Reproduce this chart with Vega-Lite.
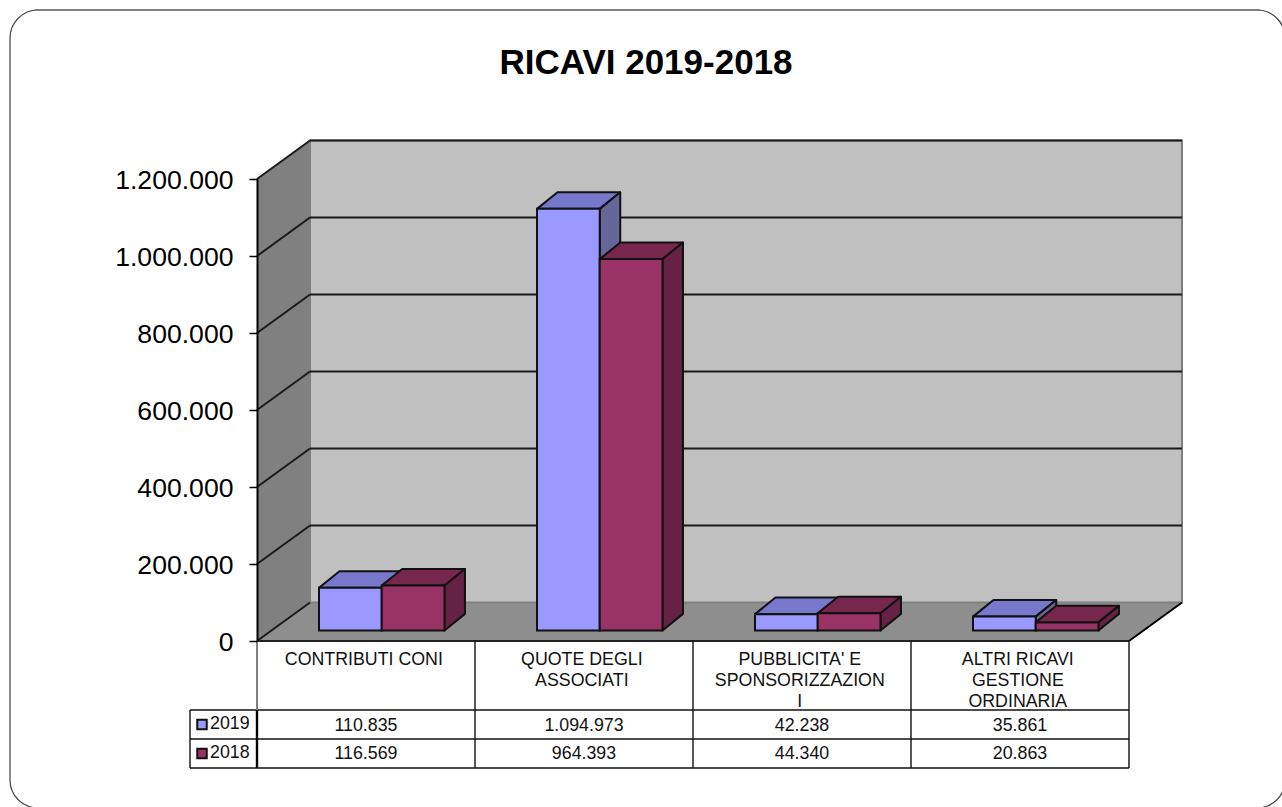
{
"$schema":"https://vega.github.io/schema/vega-lite/v6.json",
"width":872,"height":462,
"autosize":{"type":"none"},
"padding":{"left":257,"top":179,"right":153,"bottom":166},
"background":"white",
"config":{"view":{"stroke":null},"font":"Liberation Sans"},
"title":{"text":"RICAVI 2019-2018","anchor":"middle","frame":"group","font":"Liberation Sans","fontSize":35,"fontWeight":"bold","color":"black","dx":-47,"offset":-72},
"datasets":{
"ricavi":[
{"n":0,"categoria":"CONTRIBUTI CONI","serie":"2019","valore":110835},
{"n":1,"categoria":"QUOTE DEGLI ASSOCIATI","serie":"2019","valore":1094973},
{"n":2,"categoria":"PUBBLICITA' E SPONSORIZZAZIONI","serie":"2019","valore":42238},
{"n":3,"categoria":"ALTRI RICAVI GESTIONE ORDINARIA","serie":"2019","valore":35861},
{"n":0,"categoria":"CONTRIBUTI CONI","serie":"2018","valore":116569},
{"n":1,"categoria":"QUOTE DEGLI ASSOCIATI","serie":"2018","valore":964393},
{"n":2,"categoria":"PUBBLICITA' E SPONSORIZZAZIONI","serie":"2018","valore":44340},
{"n":3,"categoria":"ALTRI RICAVI GESTIONE ORDINARIA","serie":"2018","valore":20863}
],
"etichette":[
{"n":0,"etichetta":"CONTRIBUTI CONI"},
{"n":1,"etichetta":"QUOTE DEGLI\nASSOCIATI"},
{"n":2,"etichetta":"PUBBLICITA' E\nSPONSORIZZAZION\nI"},
{"n":3,"etichetta":"ALTRI RICAVI\nGESTIONE\nORDINARIA"}
],
"tacche":[{"v":0},{"v":200000},{"v":400000},{"v":600000},{"v":800000},{"v":1000000},{"v":1200000}],
"profondita":[{"t":0},{"t":1}],
"serie":[{"serie":"2019","r":0},{"serie":"2018","r":1}],
"uno":[{"k":1}],
"colonne":[{"n":1},{"n":2},{"n":3},{"n":4}],
"righe":[{"r":0},{"r":1},{"r":2}]
},
"encoding":{
"x":{"field":"x","type":"quantitative","scale":{"domain":[0,4],"nice":false,"zero":false},"axis":null},
"y":{"field":"y","type":"quantitative","scale":{"domain":[0,1200000],"nice":false,"zero":false},
"axis":{"values":[0,200000,400000,600000,800000,1000000,1200000],"title":null,"grid":false,"labelExpr":"replace(format(datum.value,','),/,/g,'.')","labelFont":"Liberation Sans","labelFontSize":26.6,"labelColor":"black","labelPadding":16,"labelOverlap":false,"labelBound":false,"labelFlush":false,"labelOffset":1,"tickSize":8,"tickColor":"black","tickWidth":1.5,"domainColor":"black","domainWidth":2,"zindex":1}}
},
"layer":[
{"data":{"name":"uno"},
"transform":[{"calculate":"-1.133","as":"x"},{"calculate":"4.716","as":"x2"},{"calculate":"1638959","as":"y"},{"calculate":"-433766","as":"y2"}],
"mark":{"type":"rect","fill":"white","stroke":"#444444","strokeWidth":1.2,"cornerRadius":28},
"encoding":{"x2":{"field":"x2"},"y2":{"field":"y2"}}},
{"data":{"name":"uno"},
"transform":[{"calculate":"-1.02","as":"x"},{"calculate":"4.6","as":"x2"},{"calculate":"1638959","as":"y"}],
"mark":{"type":"rule","stroke":"#808080","strokeWidth":2},
"encoding":{"x2":{"field":"x2"}}},
{"data":{"name":"profondita"},
"transform":[{"calculate":"datum.t*0.2431","as":"x"},{"calculate":"datum.t*100000","as":"y"},{"calculate":"1200000+datum.t*100000","as":"y2"}],
"mark":{"type":"area","orient":"vertical","fill":"#808080"},
"encoding":{"y2":{"field":"y2"}}},
{"data":{"name":"profondita"},
"transform":[{"calculate":"datum.t*0.2431","as":"x"},{"calculate":"4+datum.t*0.2431","as":"x2"},{"calculate":"datum.t*100000","as":"y"}],
"mark":{"type":"area","orient":"horizontal","fill":"#8E8E8E"},
"encoding":{"x2":{"field":"x2"}}},
{"data":{"name":"uno"},
"transform":[{"calculate":"0.2431","as":"x"},{"calculate":"4.2431","as":"x2"},{"calculate":"100000","as":"y"},{"calculate":"1300000","as":"y2"}],
"mark":{"type":"rect","fill":"#C0C0C0","stroke":"#808080","strokeWidth":2},
"encoding":{"x2":{"field":"x2"},"y2":{"field":"y2"}}},
{"data":{"name":"tacche"},
"transform":[{"filter":"datum.v>0"},{"calculate":"0.2431","as":"x"},{"calculate":"4.2431","as":"x2"},{"calculate":"datum.v+100000","as":"y"}],
"mark":{"type":"rule","stroke":"#1a1a1a","strokeWidth":2.2},
"encoding":{"x2":{"field":"x2"}}},
{"data":{"name":"tacche"},
"transform":[{"calculate":"0","as":"x"},{"calculate":"0.2431","as":"x2"},{"calculate":"datum.v","as":"y"},{"calculate":"datum.v+100000","as":"y2"}],
"mark":{"type":"rule","stroke":"#1a1a1a","strokeWidth":2},
"encoding":{"x2":{"field":"x2"},"y2":{"field":"y2"}}},
{"data":{"name":"uno"},
"transform":[{"calculate":"4","as":"x"},{"calculate":"4.2431","as":"x2"},{"calculate":"0","as":"y"},{"calculate":"100000","as":"y2"}],
"mark":{"type":"rule","stroke":"black","strokeWidth":2},
"encoding":{"x2":{"field":"x2"},"y2":{"field":"y2"}}},
{"data":{"name":"ricavi"},
"transform":[{"filter":"datum.serie=='2019'"},{"calculate":"datum.n+0.2844","as":"a"},{"calculate":"datum.a+0.2878","as":"b"},{"calculate":"[0,1]","as":"ts"},{"flatten":["ts"],"as":["t"]},{"calculate":"datum.a+datum.t*0.094","as":"x"},{"calculate":"datum.b+datum.t*0.094","as":"x2"},{"calculate":"27500+datum.valore+datum.t*43000","as":"y"}],
"mark":{"type":"area","orient":"horizontal","fill":"#7777CC","stroke":"#111111","strokeWidth":2,"strokeJoin":"round"},
"encoding":{"x2":{"field":"x2"},"detail":{"field":"n"}}},
{"data":{"name":"ricavi"},
"transform":[{"filter":"datum.serie=='2019'"},{"calculate":"datum.n+0.2844+0.2878","as":"b"},{"calculate":"[0,1]","as":"ts"},{"flatten":["ts"],"as":["t"]},{"calculate":"datum.b+datum.t*0.094","as":"x"},{"calculate":"27500+datum.t*43000","as":"y"},{"calculate":"27500+datum.valore+datum.t*43000","as":"y2"}],
"mark":{"type":"area","orient":"vertical","fill":"#666699","stroke":"#111111","strokeWidth":2,"strokeJoin":"round"},
"encoding":{"y2":{"field":"y2"},"detail":{"field":"n"}}},
{"data":{"name":"ricavi"},
"transform":[{"filter":"datum.serie=='2018'"},{"calculate":"datum.n+0.2844+0.2878","as":"a"},{"calculate":"datum.a+0.2878","as":"b"},{"calculate":"[0,1]","as":"ts"},{"flatten":["ts"],"as":["t"]},{"calculate":"datum.a+datum.t*0.094","as":"x"},{"calculate":"datum.b+datum.t*0.094","as":"x2"},{"calculate":"27500+datum.valore+datum.t*43000","as":"y"}],
"mark":{"type":"area","orient":"horizontal","fill":"#77264C","stroke":"#111111","strokeWidth":2,"strokeJoin":"round"},
"encoding":{"x2":{"field":"x2"},"detail":{"field":"n"}}},
{"data":{"name":"ricavi"},
"transform":[{"filter":"datum.serie=='2018'"},{"calculate":"datum.n+0.2844+0.2878+0.2878","as":"b"},{"calculate":"[0,1]","as":"ts"},{"flatten":["ts"],"as":["t"]},{"calculate":"datum.b+datum.t*0.094","as":"x"},{"calculate":"27500+datum.t*43000","as":"y"},{"calculate":"27500+datum.valore+datum.t*43000","as":"y2"}],
"mark":{"type":"area","orient":"vertical","fill":"#662244","stroke":"#111111","strokeWidth":2,"strokeJoin":"round"},
"encoding":{"y2":{"field":"y2"},"detail":{"field":"n"}}},
{"data":{"name":"ricavi"},
"transform":[{"calculate":"datum.n+0.2844+(datum.serie=='2019'?0:0.2878)","as":"x"},{"calculate":"datum.x+0.2878","as":"x2"},{"calculate":"27500","as":"y"},{"calculate":"27500+datum.valore","as":"y2"}],
"mark":{"type":"rect","stroke":"#111111","strokeWidth":2},
"encoding":{"x2":{"field":"x2"},"y2":{"field":"y2"},"color":{"field":"serie","type":"nominal","scale":{"domain":["2019","2018"],"range":["#9999FF","#993366"]},"legend":null}}},
{"data":{"name":"righe"},
"transform":[{"calculate":"-0.3073","as":"x"},{"calculate":"4","as":"x2"},{"calculate":"-179220-datum.r*75325","as":"y"}],
"mark":{"type":"rule","stroke":"#111111","strokeWidth":1.4},
"encoding":{"x2":{"field":"x2"}}},
{"data":{"name":"uno"},
"transform":[{"calculate":"0","as":"x"},{"calculate":"4","as":"x2"},{"calculate":"0","as":"y"}],
"mark":{"type":"rule","stroke":"#222222","strokeWidth":2},
"encoding":{"x2":{"field":"x2"}}},
{"data":{"name":"colonne"},
"transform":[{"calculate":"datum.n","as":"x"},{"calculate":"0","as":"y"},{"calculate":"-329870","as":"y2"}],
"mark":{"type":"rule","stroke":"#111111","strokeWidth":1.4},
"encoding":{"y2":{"field":"y2"}}},
{"data":{"name":"uno"},
"transform":[{"calculate":"-0.3073","as":"x"},{"calculate":"-179220","as":"y"},{"calculate":"-329870","as":"y2"}],
"mark":{"type":"rule","stroke":"#111111","strokeWidth":1.4},
"encoding":{"y2":{"field":"y2"}}},
{"data":{"name":"uno"},
"transform":[{"calculate":"0","as":"x"},{"calculate":"0","as":"y"},{"calculate":"-179220","as":"y2"}],
"mark":{"type":"rule","stroke":"#808080","strokeWidth":2},
"encoding":{"y2":{"field":"y2"}}},
{"data":{"name":"uno"},
"transform":[{"calculate":"0","as":"x"},{"calculate":"-179220","as":"y"},{"calculate":"-329870","as":"y2"}],
"mark":{"type":"rule","stroke":"black","strokeWidth":2.4},
"encoding":{"y2":{"field":"y2"}}},
{"data":{"name":"etichette"},
"transform":[{"calculate":"datum.n+0.49","as":"x"},{"calculate":"-49000","as":"y"}],
"mark":{"type":"text","font":"Liberation Sans","fontSize":17.8,"color":"#111111","align":"center","baseline":"middle","lineBreak":"\n","lineHeight":21},
"encoding":{"text":{"field":"etichetta","type":"nominal"}}},
{"data":{"name":"ricavi"},
"transform":[{"calculate":"datum.n+0.5","as":"x"},{"calculate":"datum.serie=='2019'?-219500:-294800","as":"y"},{"calculate":"replace(format(datum.valore,','),/,/g,'.')","as":"testo"}],
"mark":{"type":"text","font":"Liberation Sans","fontSize":17.8,"color":"#111111","align":"center","baseline":"middle"},
"encoding":{"text":{"field":"testo","type":"nominal"}}},
{"data":{"name":"serie"},
"transform":[{"calculate":"-0.2523","as":"x"},{"calculate":"-216880-datum.r*75325","as":"y"}],
"mark":{"type":"point","shape":"square","filled":true,"size":90,"stroke":"#111111","strokeWidth":2,"opacity":1},
"encoding":{"color":{"field":"serie","type":"nominal","scale":{"domain":["2019","2018"],"range":["#9999FF","#993366"]},"legend":null},"stroke":{"value":"#111111"}}},
{"data":{"name":"serie"},
"transform":[{"calculate":"-0.2156","as":"x"},{"calculate":"-216600-datum.r*75325","as":"y"}],
"mark":{"type":"text","font":"Liberation Sans","fontSize":17.8,"color":"#111111","align":"left","baseline":"middle"},
"encoding":{"text":{"field":"serie","type":"nominal"}}}
]
}
